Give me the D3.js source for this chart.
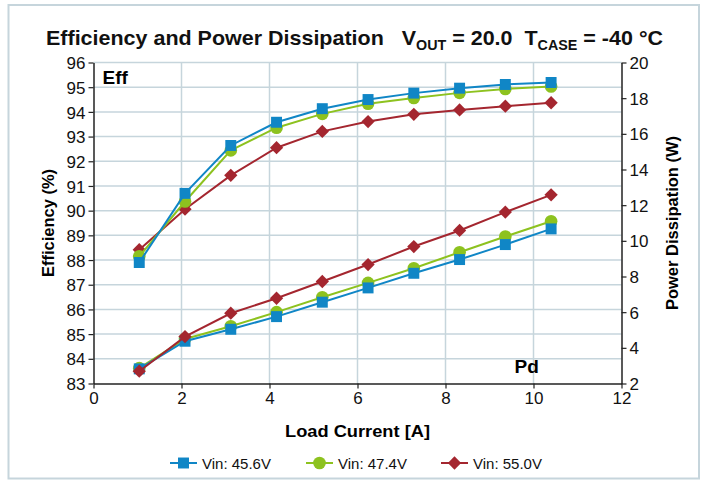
<!DOCTYPE html>
<html>
<head>
<meta charset="utf-8">
<script src="https://cdn.jsdelivr.net/npm/d3@7"></script>
<style>
  body { margin: 0; background: #fff; }
  text { font-family: "Liberation Sans", Arial, sans-serif; }
</style>
</head>
<body>
<svg id="chart" width="707" height="483"></svg>
<script>
// load current (A)
const current = [1.04, 2.08, 3.12, 4.16, 5.2, 6.24, 7.28, 8.32, 9.36, 10.4];

// efficiency (%)
const eff456 = [87.9, 90.7, 92.64, 93.58, 94.13, 94.5, 94.76, 94.96, 95.11, 95.19];
const eff474 = [88.15, 90.37, 92.44, 93.36, 93.92, 94.33, 94.56, 94.77, 94.93, 95.03];
const eff550 = [88.42, 90.06, 91.43, 92.55, 93.21, 93.61, 93.9, 94.08, 94.23, 94.37];

// power dissipation (W)
const pd456 = [2.82, 4.37, 5.04, 5.75, 6.56, 7.36, 8.18, 8.95, 9.79, 10.67];
const pd474 = [2.86, 4.5, 5.21, 6.0, 6.84, 7.64, 8.46, 9.36, 10.24, 11.1];
const pd550 = [2.69, 4.63, 5.94, 6.78, 7.72, 8.67, 9.68, 10.58, 11.61, 12.58];

const seriesNames = ["Vin: 45.6V", "Vin: 47.4V", "Vin: 55.0V"];
const xTicks = [0, 2, 4, 6, 8, 10, 12];
const effTicks = [83, 84, 85, 86, 87, 88, 89, 90, 91, 92, 93, 94, 95, 96];
const pdTicks = [2, 4, 6, 8, 10, 12, 14, 16, 18, 20];

const colors = ["#1086c6", "#8dc21f", "#a4262f"];
const markers = ["square", "circle", "diamond"];

const svg = d3.select("#chart");
const margin = { top: 62.5, left: 93.5 };
const width = 621.5 - margin.left;
const height = 383.5 - margin.top;

// outer frame
svg.append("rect")
  .attr("x", 8.5).attr("y", 5).attr("width", 690.5).attr("height", 473.5)
  .attr("fill", "none").attr("stroke", "#c6d5dc").attr("stroke-width", 2);

const g = svg.append("g").attr("transform", `translate(${margin.left},${margin.top})`);

const x = d3.scaleLinear().domain([0, 12]).range([0, width]);
const yEff = d3.scaleLinear().domain([83, 96]).range([height, 0]);
const yPd = d3.scaleLinear().domain([2, 20]).range([height, 0]);

// grid
g.append("g").selectAll("line").data(effTicks.slice(1)).join("line")
  .attr("x1", 0).attr("x2", width)
  .attr("y1", d => yEff(d)).attr("y2", d => yEff(d))
  .attr("stroke", "#c6d5dc").attr("stroke-width", 1.5);
g.append("g").selectAll("line").data(xTicks.slice(1, -1)).join("line")
  .attr("x1", d => x(d)).attr("x2", d => x(d))
  .attr("y1", 0).attr("y2", height)
  .attr("stroke", "#c6d5dc").attr("stroke-width", 1.5);

function styleAxis(sel) {
  sel.select(".domain").attr("stroke", "#222").attr("stroke-width", 1.5);
  sel.selectAll(".tick line").attr("stroke", "#222").attr("stroke-width", 1.2);
  sel.selectAll(".tick text").attr("fill", "#111").style("font-size", "17px")
    .style("font-family", "'Liberation Sans', Arial, sans-serif");
}

g.append("g").attr("transform", `translate(0,${height})`)
  .call(d3.axisBottom(x).tickValues(xTicks).tickSize(5).tickSizeOuter(0).tickPadding(3))
  .call(styleAxis);

g.append("g")
  .call(d3.axisLeft(yEff).tickValues(effTicks).tickSize(5).tickSizeOuter(0).tickPadding(3))
  .call(styleAxis)
  .call(s => s.selectAll(".tick text").attr("dy", "0.36em"));

g.append("g").attr("transform", `translate(${width},0)`)
  .call(d3.axisRight(yPd).tickValues(pdTicks).tickSize(5).tickSizeOuter(0).tickPadding(3))
  .call(styleAxis)
  .call(s => s.selectAll(".tick text").attr("dy", "0.36em"));

// series
const effSeries = [eff456, eff474, eff550];
const pdSeries = [pd456, pd474, pd550];

function markerPath(type) {
  if (type === "square") return d3.symbol(d3.symbolSquare, 120)();
  if (type === "circle") return d3.symbol(d3.symbolCircle, 125)();
  return d3.symbol(d3.symbolSquare, 88)();
}
function markerTransform(type, px, py) {
  return type === "diamond" ? `translate(${px},${py}) rotate(45)` : `translate(${px},${py})`;
}

function drawSeries(vals, yScale, i) {
  const pts = current.map((c, k) => [x(c), yScale(vals[k])]);
  g.append("path").datum(pts)
    .attr("d", d3.line())
    .attr("fill", "none").attr("stroke", colors[i]).attr("stroke-width", 2);
  g.append("g").selectAll("path").data(pts).join("path")
    .attr("d", markerPath(markers[i]))
    .attr("transform", d => markerTransform(markers[i], d[0], d[1]))
    .attr("fill", colors[i]);
}

[1, 0, 2].forEach(i => drawSeries(pdSeries[i], yPd, i));
[2, 1, 0].forEach(i => drawSeries(effSeries[i], yEff, i));

// labels inside plot
g.append("text").attr("x", 9).attr("y", 21)
  .style("font-size", "19px").style("font-weight", "bold").text("Eff");
g.append("text").attr("x", 421).attr("y", 310)
  .style("font-size", "19px").style("font-weight", "bold").text("Pd");

// title
const title = svg.append("text").attr("x", 46).attr("y", 45)
  .attr("textLength", 617).attr("lengthAdjust", "spacingAndGlyphs")
  .style("font-size", "21px").style("font-weight", "bold").attr("fill", "#111");
title.append("tspan").text("Efficiency and Power Dissipation\u00a0\u00a0 V");
title.append("tspan").attr("dy", 5).style("font-size", "14px").text("OUT");
title.append("tspan").attr("dy", -5).text(" = 20.0\u00a0 T");
title.append("tspan").attr("dy", 5).style("font-size", "14px").text("CASE");
title.append("tspan").attr("dy", -5).text(" = -40 \u00b0C");

// axis titles
svg.append("text").attr("x", 285).attr("y", 437)
  .attr("textLength", 145).attr("lengthAdjust", "spacingAndGlyphs")
  .style("font-size", "17px").style("font-weight", "bold").text("Load Current [A]");
svg.append("text").attr("transform", `translate(54,${margin.top + height / 2}) rotate(-90)`)
  .attr("text-anchor", "middle")
  .style("font-size", "16.5px").style("font-weight", "bold").text("Efficiency (%)");
svg.append("text").attr("transform", `translate(678,${margin.top + height / 2}) rotate(-90)`)
  .attr("text-anchor", "middle")
  .style("font-size", "16.5px").style("font-weight", "bold").text("Power Dissipation (W)");

// legend
const legendX = [170, 306, 441];
const legend = svg.append("g");
seriesNames.forEach((name, i) => {
  const lg = legend.append("g").attr("transform", `translate(${legendX[i]},463)`);
  lg.append("line").attr("x1", 0).attr("x2", 27).attr("stroke", colors[i]).attr("stroke-width", 2);
  lg.append("path").attr("d", markerPath(markers[i]))
    .attr("transform", markerTransform(markers[i], 13.5, 0))
    .attr("fill", colors[i]);
  lg.append("text").attr("x", 32).attr("y", 5.5)
    .style("font-size", "15px").attr("fill", "#111").text(name);
});
</script>
</body>
</html>
